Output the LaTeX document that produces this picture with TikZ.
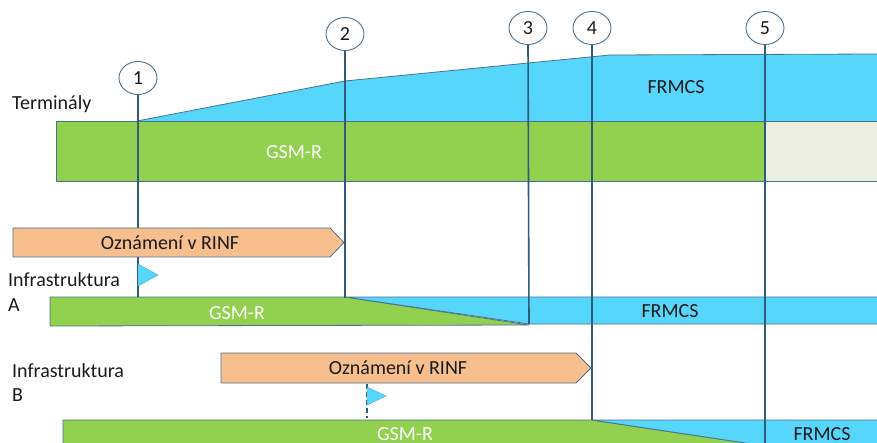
\documentclass[tikz,border=0pt]{standalone}
\usepackage{fontspec}
\setmainfont{Carlito}
\usetikzlibrary{shapes.geometric}
\definecolor{gsmgreen}{HTML}{92D050}
\definecolor{frblue}{HTML}{57D6FB}
\definecolor{peach}{HTML}{F7BE8E}
\definecolor{beige}{HTML}{EBEEE0}
\definecolor{mline}{HTML}{2F5A7C}
\definecolor{outl}{HTML}{4A7090}
\definecolor{txt}{HTML}{1A1A1A}
\begin{document}
\begin{tikzpicture}[x=1pt,y=-1pt,
  bar/.style={draw=outl,line width=0.8pt,line join=round},
  marker/.style={draw=mline,line width=1.6pt},
  num/.style={ellipse,draw=outl,line width=0.9pt,fill=white,minimum width=38pt,minimum height=33pt,inner sep=0pt,font=\fontsize{20}{24}\selectfont,text=txt},
  lbl/.style={font=\fontsize{20}{24}\selectfont,text=txt,inner sep=0pt},
  wlbl/.style={font=\fontsize{20}{24}\selectfont,text=white,inner sep=0pt},
  flag/.style={fill=frblue,draw=frblue!80!black,line width=0.4pt}]
\useasboundingbox (0,0) rectangle (877,443);
\begin{scope}
\clip (0,0) rectangle (877,443);
% Terminaly
\fill[frblue] (137,121) -- (345,81) -- (610,55) -- (880,54) -- (880,121) -- cycle;
\draw[outl,line width=0.8pt] (137,121) -- (345,81) -- (610,55) -- (880,54);
\draw[bar,fill=gsmgreen] (56,121) rectangle (765,181);
\draw[bar,fill=beige] (765,121) rectangle (885,181);
% Infra A
\draw[bar,fill=gsmgreen] (50,297) -- (345,297) -- (529,325) -- (50,326) -- cycle;
\draw[bar,fill=frblue] (345,297) -- (885,297) -- (885,324) -- (529,324) -- cycle;
% Infra B
\draw[bar,fill=gsmgreen] (63,420) -- (592,420) -- (772,447) -- (63,448) -- cycle;
\draw[bar,fill=frblue] (592,420) -- (885,420) -- (885,447) -- (772,447) -- cycle;
% circles
\node[num] (c1) at (138,78) {1};
\node[num] (c2) at (345,34) {2};
\node[num] (c3) at (528,28) {3};
\node[num] (c4) at (592,28) {4};
\node[num] (c5) at (765,28) {5};
\coordinate (e1) at (138,297);
\coordinate (e2) at (345,298);
\coordinate (e3) at (529,324);
\coordinate (e4) at (592,420);
\coordinate (e5) at (765,450);
\draw[marker] (c1.south) -- (e1);
\draw[marker] (c2.south) -- (e2);
\draw[marker] (c3.south) -- (e3);
\draw[marker] (c4.south) -- (e4);
\draw[marker] (c5.south) -- (e5);
% announcement arrows
\draw[bar,fill=peach] (13,228) -- (330,228) -- (344,242.5) -- (330,257) -- (13,257) -- cycle;
\draw[bar,fill=peach] (221,353) -- (576,353) -- (591,368) -- (576,383) -- (221,383) -- cycle;
% flags
\draw[flag] (138,264) -- (158,275) -- (138,286) -- cycle;
\draw[mline,line width=1.2pt,dash pattern=on 5pt off 3pt] (367,384) -- (367,418);
\draw[flag] (367,387) -- (386,396) -- (367,405) -- cycle;
% texts
\node[lbl,anchor=base west] (tterm) at (12,110) {Terminály};
\node[lbl,anchor=base] (tfr1) at (676,94) {FRMCS};
\node[wlbl,anchor=base] (tgs1) at (294,159) {GSM-R};
\node[lbl,anchor=base] (toza) at (170,250) {Oznámení v RINF};
\node[lbl,anchor=base west] (tia1) at (8,287) {Infrastruktura};
\node[lbl,anchor=base west] (tia2) at (8,311) {A};
\node[wlbl,anchor=base] (tgs2) at (237,319) {GSM-R};
\node[lbl,anchor=base] (tfr2) at (670,317) {FRMCS};
\node[lbl,anchor=base] (tozb) at (398,374) {Oznámení v RINF};
\node[lbl,anchor=base west] (tib1) at (12,377) {Infrastruktura};
\node[lbl,anchor=base west] (tib2) at (12,401) {B};
\node[wlbl,anchor=base] (tgs3) at (405,440) {GSM-R};
\node[lbl,anchor=base] (tfr3) at (822,440) {FRMCS};
\end{scope}
\end{tikzpicture}
\end{document}
